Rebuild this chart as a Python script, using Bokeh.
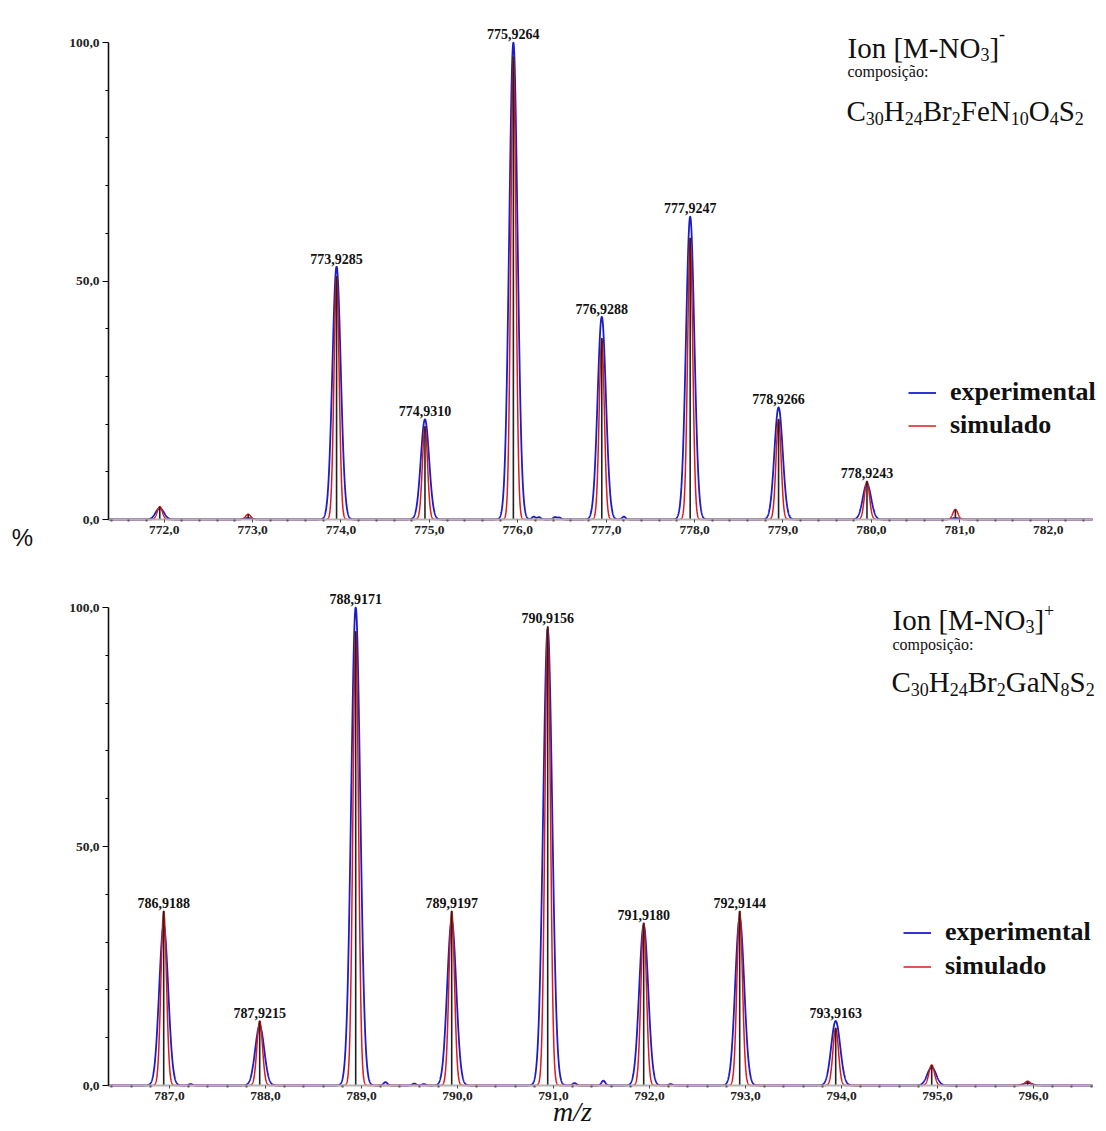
import numpy as np
from bokeh.plotting import figure
from bokeh.layouts import column
from bokeh.models import Range1d, FixedTicker, Label, ColumnDataSource
from bokeh.core.properties import value
from bokeh.embed import file_html
from bokeh.resources import INLINE

# ---------------- data: top panel ([M-NO3]-, Fe complex) ----------------
top_centers = [771.95, 772.95, 773.95, 774.95, 775.95, 776.95, 777.95, 778.95, 779.95, 780.95]
top_exp = [2.4, 0.3, 53.0, 21.0, 100.0, 42.5, 63.5, 23.5, 7.5, 0.3]
top_sim = [2.7, 1.1, 51.0, 19.5, 97.0, 38.0, 59.0, 21.0, 8.0, 2.1]
top_labels = ["", "", "773,9285", "774,9310", "775,9264", "776,9288",
              "777,9247", "778,9266", "778,9243", ""]
top_noise_x = [776.18, 776.24, 776.42, 776.47, 777.20]
top_noise_y = [0.6, 0.5, 0.5, 0.4, 0.6]
top_ticks = [772, 773, 774, 775, 776, 777, 778, 779, 780, 781, 782]

# ---------------- data: bottom panel ([M-NO3]+, Ga complex) ----------------
bot_centers = [786.94, 787.94, 788.94, 789.94, 790.94, 791.94, 792.94, 793.94, 794.94, 795.94]
bot_exp = [33.5, 12.5, 100.0, 34.5, 95.5, 33.5, 35.0, 13.5, 3.8, 0.5]
bot_sim = [36.5, 13.5, 95.0, 36.5, 96.0, 34.0, 36.5, 12.0, 4.3, 0.9]
bot_labels = ["786,9188", "787,9215", "788,9171", "789,9197", "790,9156",
              "791,9180", "792,9144", "793,9163", "", ""]
bot_noise_x = [787.22, 789.25, 789.55, 789.65, 791.22, 791.52, 792.22]
bot_noise_y = [0.3, 0.7, 0.4, 0.3, 0.5, 1.0, 0.3]
bot_ticks = [787, 788, 789, 790, 791, 792, 793, 794, 795, 796]

y_ticks = [0, 50, 100]
y_tick_labels = ["0,0", "50,0", "100,0"]

SERIF = "Liberation Serif"
BLUE = "#1c1ccc"
RED = "#dd1a1a"
STICK = "#222222"
FIG_W = 1106
AXIS_PX = 108      # page x of the y axis
AXIS_END_PX = 1092  # page x where the x axis line ends


def profile(xs, centers, heights, sigma, nx=None, ny=None, nsig=0.02):
    ys = np.zeros_like(xs)
    for c, h in zip(centers, heights):
        ys += h * np.exp(-0.5 * ((xs - c) / sigma) ** 2)
    if nx is not None:
        for c, h in zip(nx, ny):
            ys += h * np.exp(-0.5 * ((xs - c) / nsig) ** 2)
    return ys


W = {'I': 333, 'o': 500, 'n': 500, ' ': 250, '[': 333, 'M': 889, '-': 333, 'N': 722,
     'O': 722, ']': 333, '+': 564, 'C': 667, 'H': 722, 'B': 667, 'r': 333, 'F': 556,
     'e': 444, 'G': 722, 'a': 444, 'S': 556, 'c': 444, 'm': 778, 'p': 500, 's': 389,
     'i': 278, 'ç': 444, 'ã': 444, ':': 278}


def text_w(t, size):
    return sum(W.get(ch, 500) for ch in t) / 1000.0 * size


class Panel:
    """Maps page pixels of the figure to data coordinates (layout helper)."""
    def __init__(self, page_top, height, x_at_axis, px_per_x, y0_page, px_per_y):
        self.page_top, self.height = page_top, height
        self.x_at_axis, self.sx = x_at_axis, px_per_x
        self.y0_page, self.sy = y0_page, px_per_y

    def X(self, px):
        return self.x_at_axis + (px - AXIS_PX) / self.sx

    def Y(self, py):
        return (self.y0_page - py) / self.sy


def make_panel(pn, centers, exp, sim, labels, nx, ny, ticks, legend_loc, spacing):
    xr = (pn.X(0), pn.X(FIG_W))
    yr = (pn.Y(pn.page_top + pn.height), pn.Y(pn.page_top))
    p = figure(width=FIG_W, height=pn.height, x_range=Range1d(*xr), y_range=Range1d(*yr),
               output_backend="svg", toolbar_location=None,
               min_border_left=0, min_border_right=0, min_border_top=0, min_border_bottom=0)
    p.outline_line_color = None
    p.xgrid.visible = False
    p.ygrid.visible = False
    p.background_fill_color = "white"

    x_lo, x_hi = pn.X(AXIS_PX), pn.X(AXIS_END_PX)
    xs = np.linspace(x_lo, x_hi, 8000)
    yb = profile(xs, centers, exp, 0.047, nx, ny)
    yrd = profile(xs, centers, sim, 0.029)
    p.line(xs, yb, line_color=BLUE, line_width=1.8, legend_label="experimental")
    p.line(xs, yrd, line_color=RED, line_width=1.5, legend_label="simulado")
    p.segment(x0=centers, y0=[0] * len(centers), x1=centers, y1=sim,
              line_color=STICK, line_width=1.6)

    lab_src = ColumnDataSource(dict(
        x=[c for c, l in zip(centers, labels) if l],
        y=[max(e, s) + 1.7 for e, s, l in zip(exp, sim, labels) if l],
        t=[l for l in labels if l]))
    p.text(x="x", y="y", text="t", source=lab_src, text_align="center",
           text_baseline="alphabetic", text_font=value(SERIF), text_font_style="bold",
           text_font_size="14px", text_color="#111111")

    # axes
    xa = p.xaxis[0]
    xa.fixed_location = 0
    xa.bounds = (x_lo, x_hi)
    minors = [round(t + k * 0.2, 1) for t in [ticks[0] - 1] + ticks for k in range(1, 5)]
    minors = [m for m in minors if x_lo < m < x_hi]
    xa.ticker = FixedTicker(ticks=ticks, minor_ticks=minors)
    xa.major_label_overrides = {t: f"{t},0" for t in ticks}
    xa.axis_line_color = "#b4b4b4"
    xa.axis_line_width = 2
    xa.major_tick_line_color = "#444444"
    xa.major_tick_out = 3
    xa.major_tick_in = 0
    xa.minor_tick_line_color = "#555555"
    xa.minor_tick_line_width = 2
    xa.minor_tick_out = 2
    xa.minor_tick_in = 0
    xa.major_label_standoff = 3
    xa.major_label_text_font = SERIF
    xa.major_label_text_font_style = "bold"
    xa.major_label_text_font_size = "13.5px"
    xa.major_label_text_color = "#222222"

    ya = p.yaxis[0]
    ya.fixed_location = x_lo
    ya.bounds = (0, 100)
    ya.ticker = FixedTicker(ticks=y_ticks, minor_ticks=[10, 20, 30, 40, 60, 70, 80, 90])
    ya.major_label_overrides = dict(zip(y_ticks, y_tick_labels))
    ya.axis_line_color = "#111111"
    ya.axis_line_width = 1.6
    ya.major_tick_out = 6
    ya.major_tick_in = 0
    ya.minor_tick_out = 3
    ya.minor_tick_in = 0
    ya.major_label_standoff = 3
    ya.major_label_text_font = SERIF
    ya.major_label_text_font_style = "bold"
    ya.major_label_text_font_size = "13.5px"
    ya.major_label_text_color = "#222222"

    lg = p.legend[0]
    lg.location = legend_loc
    lg.border_line_color = None
    lg.background_fill_alpha = 0
    lg.label_text_font = SERIF
    lg.label_text_font_style = "bold"
    lg.label_text_font_size = "26px"
    lg.label_text_color = "#111111"
    lg.glyph_width = 28
    lg.glyph_height = 25
    lg.label_height = 25
    lg.spacing = spacing
    lg.padding = 0
    lg.margin = 0
    lg.label_standoff = 14
    return p


# top panel: y axis at page x 108, 88.4 px per m/z unit; 0 at page y 519, 4.77 px per %
pn1 = Panel(0, 560, 771.37, 88.4, 519, 4.77)
p1 = make_panel(pn1, top_centers, top_exp, top_sim, top_labels,
                top_noise_x, top_noise_y, top_ticks, (908, 120), 3)
# bottom panel: 96 px per unit; 0 at page y 1085, 4.78 px per %
pn2 = Panel(560, 571, 786.365, 96.0, 1085, 4.78)
p2 = make_panel(pn2, bot_centers, bot_exp, bot_sim, bot_labels,
                bot_noise_x, bot_noise_y, bot_ticks, (903, 150), 4)


def rich(p, pn, x0, base, pieces):
    x = x0
    for t, size, dy in pieces:
        p.add_layout(Label(x=pn.X(x), y=pn.Y(base + dy), text=t, text_font=SERIF,
                           text_font_size=f"{size}px", text_align="left",
                           text_baseline="alphabetic", text_color="#111111"))
        x += text_w(t, size)


M, S = 29, 18
rich(p1, pn1, 847, 47, [("Ion [M-NO", M, 0), ("3", S, 7), ("]", M, 0), ("-", S, -14)])
rich(p1, pn1, 847, 71, [("composição:", 16, 0)])
rich(p1, pn1, 846, 110, [("C", M, 0), ("30", S, 8), ("H", M, 0), ("24", S, 8), ("Br", M, 0),
                         ("2", S, 8), ("FeN", M, 0), ("10", S, 8), ("O", M, 0), ("4", S, 8),
                         ("S", M, 0), ("2", S, 8)])

rich(p2, pn2, 892, 619, [("Ion [M-NO", M, 0), ("3", S, 7), ("]", M, 0), ("+", S, -9)])
rich(p2, pn2, 892, 644, [("composição:", 16, 0)])
rich(p2, pn2, 891, 681, [("C", M, 0), ("30", S, 8), ("H", M, 0), ("24", S, 8), ("Br", M, 0),
                         ("2", S, 8), ("GaN", M, 0), ("8", S, 8), ("S", M, 0), ("2", S, 8)])

# "%" and "m/z"
p1.add_layout(Label(x=pn1.X(22), y=pn1.Y(537), text="%", text_font="Liberation Sans",
                    text_font_size="24px", text_align="center", text_baseline="middle",
                    text_color="#111111"))
p2.add_layout(Label(x=pn2.X(572), y=pn2.Y(1111), text="m/z", text_font=SERIF,
                    text_font_style="italic", text_font_size="28px", text_align="center",
                    text_baseline="middle", text_color="#111111"))

layout = column(p1, p2, spacing=0)
open("out.html", "w").write(file_html(layout, INLINE))
